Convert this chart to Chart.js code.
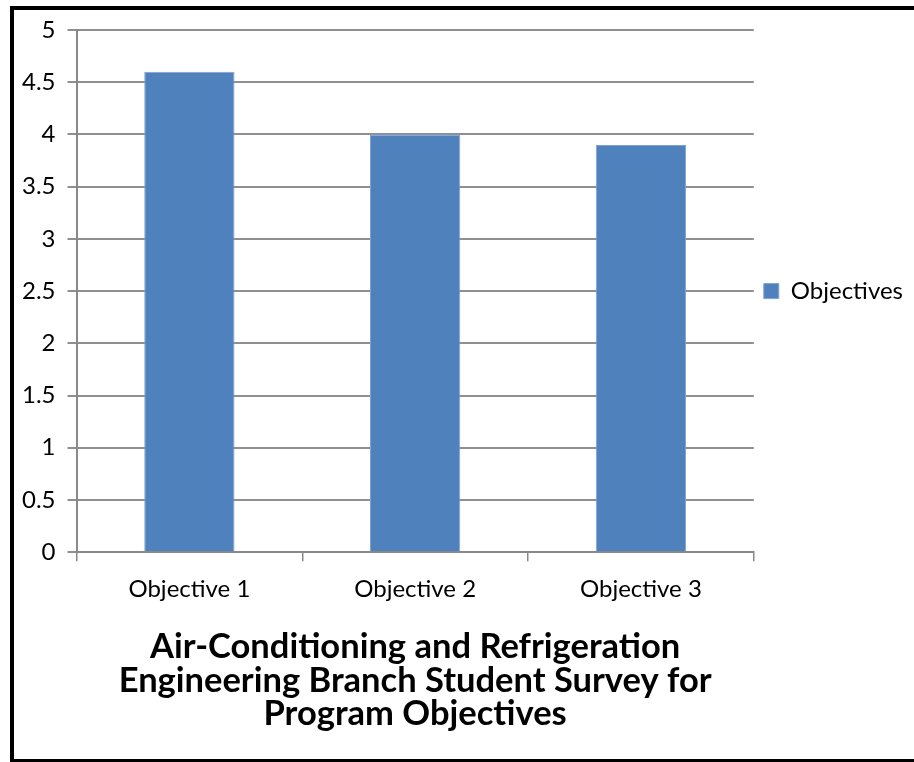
<!DOCTYPE html>
<html>
<head>
<meta charset="utf-8">
<script src="https://cdn.jsdelivr.net/npm/chart.js@4/dist/chart.umd.min.js"></script>
<style>
  html, body { margin: 0; padding: 0; background: #fff; }
  #wrap { position: absolute; left: 0; top: 0; width: 914px; height: 762px; }
  #frame { position: absolute; left: 10px; top: 6px; width: 900px; height: 749px; border: 4px solid #000; border-bottom-width: 5px; box-sizing: content-box; pointer-events: none; }
</style>
</head>
<body>
<div id="wrap"><canvas id="c" width="914" height="762"></canvas></div>
<div id="frame"></div>
<script>
const categories = ["Objective 1", "Objective 2", "Objective 3"];
const seriesName = "Objectives";
const values = [4.6, 4.0, 3.9];
const yTicks = [0, 0.5, 1, 1.5, 2, 2.5, 3, 3.5, 4, 4.5, 5];
const titleLines = ["Air-Conditioning and Refrigeration", "Engineering Branch Student Survey for", "Program Objectives"];

const FONT = "Lato, 'Open Sans', sans-serif";

new Chart(document.getElementById('c'), {
  type: 'bar',
  data: {
    labels: categories,
    datasets: [{
      label: seriesName,
      data: values,
      backgroundColor: '#4F81BD',
      borderColor: '#7FA3D1',
      borderWidth: 1,
      categoryPercentage: 0.8,
      barPercentage: 0.5
    }]
  },
  options: {
    responsive: false,
    animation: false,
    devicePixelRatio: 1,
    layout: { padding: { left: 10, right: 1, top: 30, bottom: 31 } },
    scales: {
      x: {
        grid: { display: true, drawOnChartArea: false, offset: true, color: '#898989', tickLength: 9, lineWidth: 1.5 },
        border: { display: true, color: '#898989', width: 2 },
        ticks: { color: '#000', font: { family: FONT, size: 24 }, padding: 13.5 }
      },
      y: {
        min: 0, max: 5,
        afterBuildTicks: (s) => { s.ticks = yTicks.map(v => ({ value: v })); },
        grid: { color: '#8f8f8f', lineWidth: 2, tickLength: 9, drawTicks: true },
        border: { display: true, color: '#898989', width: 2 },
        ticks: { color: '#000', font: { family: FONT, size: 24 }, padding: 12, callback: (v) => String(v) }
      }
    },
    plugins: {
      legend: {
        position: 'right',
        fullSize: false,
        labels: { boxWidth: 15, boxHeight: 15, color: '#000', font: { family: FONT, size: 24 }, padding: 10 }
      },
      title: {
        display: true,
        position: 'bottom',
        fullSize: false,
        text: titleLines,
        color: '#000',
        font: { family: FONT, size: 34.5, weight: 'bold', lineHeight: 0.97 },
        padding: { top: 13.6, bottom: 0 }
      },
      tooltip: { enabled: false }
    }
  }
});
</script>
</body>
</html>
